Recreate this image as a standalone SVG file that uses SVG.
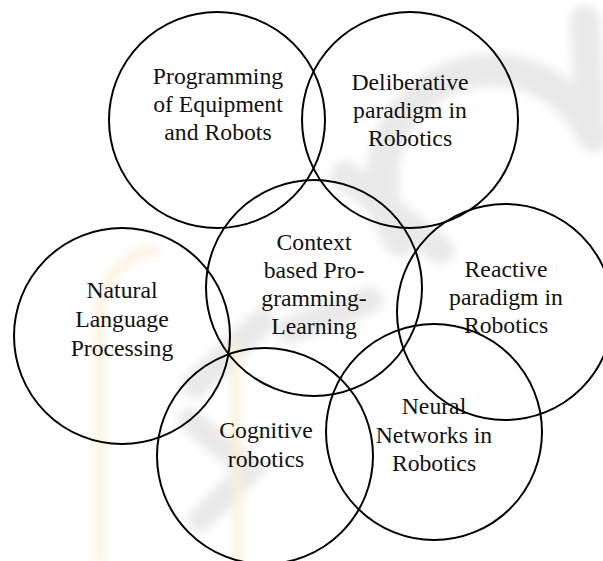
<svg xmlns="http://www.w3.org/2000/svg" width="603" height="561" viewBox="0 0 603 561">
<style>
.c{fill:none;stroke:#000;stroke-width:2}
.t{font-family:"Liberation Serif","Times New Roman",serif;font-size:23.7px;fill:#111;text-anchor:middle}
.wm{fill:none;stroke:#e9e9e9;stroke-linecap:round}
.wo{fill:none;stroke:#fcefd8;stroke-linecap:round}
</style>
<defs><filter id="b" x="-20%" y="-20%" width="140%" height="140%"><feGaussianBlur stdDeviation="5"/></filter></defs>
<rect width="603" height="561" fill="#fff"/>
<g id="watermark" filter="url(#b)">
<path class="wm" stroke-width="32" d="M400,240 A110 110 0 1 1 593,136"/>
<path class="wm" stroke-width="30" d="M585,20 L590,110"/>
<path class="wm" stroke-width="28" d="M345,175 L440,250"/>
<path class="wm" stroke-width="26" d="M195,385 L262,322"/>
<path class="wm" stroke-width="26" d="M290,330 L370,300"/>
<path class="wm" stroke-width="24" d="M190,420 L250,470 L200,520"/>
<path class="wo" stroke-width="8" d="M100,561 L100,310 Q110,255 155,250"/>
<path class="wo" stroke-width="8" d="M238,561 L235,345"/>
</g>
<g id="connectors"></g>
<g id="n1"><circle class="c" cx="217" cy="120" r="108"/>
<text class="t"><tspan x="218" y="84">Programming</tspan><tspan x="218" y="112">of Equipment</tspan><tspan x="218" y="140">and Robots</tspan></text></g>
<g id="n2"><circle class="c" cx="410" cy="120" r="108"/>
<text class="t"><tspan x="410" y="90">Deliberative</tspan><tspan x="410" y="118">paradigm in</tspan><tspan x="410" y="146">Robotics</tspan></text></g>
<g id="n3"><circle class="c" cx="314" cy="288" r="108"/>
<text class="t"><tspan x="314" y="250">Context</tspan><tspan x="314" y="278">based Pro-</tspan><tspan x="314" y="306">gramming-</tspan><tspan x="314" y="334">Learning</tspan></text></g>
<g id="n4"><circle class="c" cx="122" cy="336" r="108"/>
<text class="t"><tspan x="122" y="298">Natural</tspan><tspan x="122" y="327">Language</tspan><tspan x="122" y="356">Processing</tspan></text></g>
<g id="n5"><circle class="c" cx="505" cy="312" r="108"/>
<text class="t"><tspan x="506" y="277">Reactive</tspan><tspan x="506" y="305">paradigm in</tspan><tspan x="506" y="333">Robotics</tspan></text></g>
<g id="n6"><circle class="c" cx="265" cy="456" r="108"/>
<text class="t"><tspan x="266" y="438">Cognitive</tspan><tspan x="266" y="467">robotics</tspan></text></g>
<g id="n7"><circle class="c" cx="434" cy="432" r="108"/>
<text class="t"><tspan x="434" y="414">Neural</tspan><tspan x="434" y="443">Networks in</tspan><tspan x="434" y="471">Robotics</tspan></text></g>
</svg>
